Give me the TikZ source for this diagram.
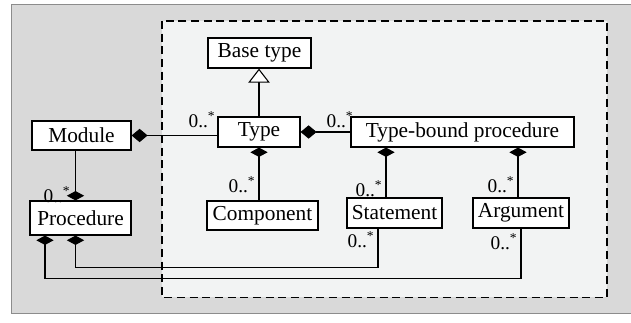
\documentclass[tikz,border=0pt]{standalone}
\usepackage{fontspec}
\setmainfont{Liberation Serif}
\usetikzlibrary{calc,arrows.meta,positioning}
\definecolor{outergray}{HTML}{D9D9D9}
\definecolor{outerline}{HTML}{8C8C8C}
\definecolor{innergray}{HTML}{F2F3F3}
\tikzset{
	cls/.style={draw, fill=white, line width=0.9pt, inner sep=0pt, minimum height=22.5pt,
		font=\fontsize{16}{18}\selectfont},
	mult/.style={inner sep=0pt, font=\fontsize{14.5}{16}\selectfont},
	hcomp/.style={line width=0.8pt, {Diamond[length=12pt,width=10pt]}-},
	vcomp/.style={line width=0.8pt, {Diamond[length=7pt,width=13pt]}-},
	inherit/.style={line width=0.8pt, -{Triangle[open,fill=white,length=10.5pt,width=16pt]}}
}
\begin{document}
\begin{tikzpicture}[x=0.75pt,y=-0.75pt]
		\useasboundingbox (0,0) rectangle (631,323);
		% frames
		\fill[outergray] (11.5,4.5) rectangle (631,313.5);
		\draw[outerline, line width=1.2pt] (631,4.5) -- (11.5,4.5) -- (11.5,313.5) -- (631,313.5);
		\draw[fill=innergray, line width=0.8pt, dash pattern=on 6pt off 3.5pt] (162,21) rectangle (607,297.5);
		% classes
		\node[cls, minimum width=77.25pt] (basetype) at (259.5,53) {Base type};
		\node[cls, minimum width=61.5pt] (type) at (259,132) {Type};
		\node[cls, minimum width=74.25pt, minimum height=21.75pt] (module) at (81.5,135.5) {Module};
		\node[cls, minimum width=167.25pt] (tbp) at (462.5,132) {Type-bound procedure};
		\node[cls, minimum width=75.75pt, minimum height=25.5pt] (procedure) at (80.5,218) {Procedure};
		\node[cls, minimum width=83.25pt, minimum height=21.75pt] (component) at (262.5,215.5) {Component};
		\node[cls, minimum width=71.25pt] (statement) at (394.5,213) {Statement};
		\node[cls, minimum width=72pt] (argument) at (521,213) {Argument};
		% anchor points
		\coordinate (p1) at ($(procedure.north)+(-5,0)$);
		\coordinate (p2) at ($(procedure.south)+(-5,0)$);
		\coordinate (p3) at ($(procedure.south)+(-35.5,0)$);
		\coordinate (t1) at ($(tbp.south)+(-76.5,0)$);
		\coordinate (t2) at ($(tbp.south)+(55.5,0)$);
		\coordinate (s1) at ($(statement.south)+(-16.5,0)$);
		% connectors
		\draw[inherit] (type.north) -- (type.north |- basetype.south);
		\draw[hcomp] (module.east) -- (module.east -| type.west);
		\draw[hcomp] (type.east) -- (tbp.west);
		\draw[vcomp] (type.south) -- (type.south |- component.north);
		\draw[vcomp] (t1) -- (t1 |- statement.north);
		\draw[vcomp] (t2) -- (t2 |- argument.north);
		\draw[vcomp] (p1) -- (p1 |- module.south);
		\draw[vcomp] (p2) |- ($(s1)+(0,39)$) -- (s1);
		\draw[vcomp] (p3) |- ($(argument.south)+(0,50)$) -- (argument.south);
		% multiplicities
		\foreach \n/\x/\y in {m1/202/120, m2/340/120, m3/57/195, m4/242/185, m5/369/189, m6/501/185, m7/361/240, m8/504/242}
		{\node[mult] (\n) at (\x,\y) {0..\textsuperscript{*}};}
\end{tikzpicture}
\end{document}
